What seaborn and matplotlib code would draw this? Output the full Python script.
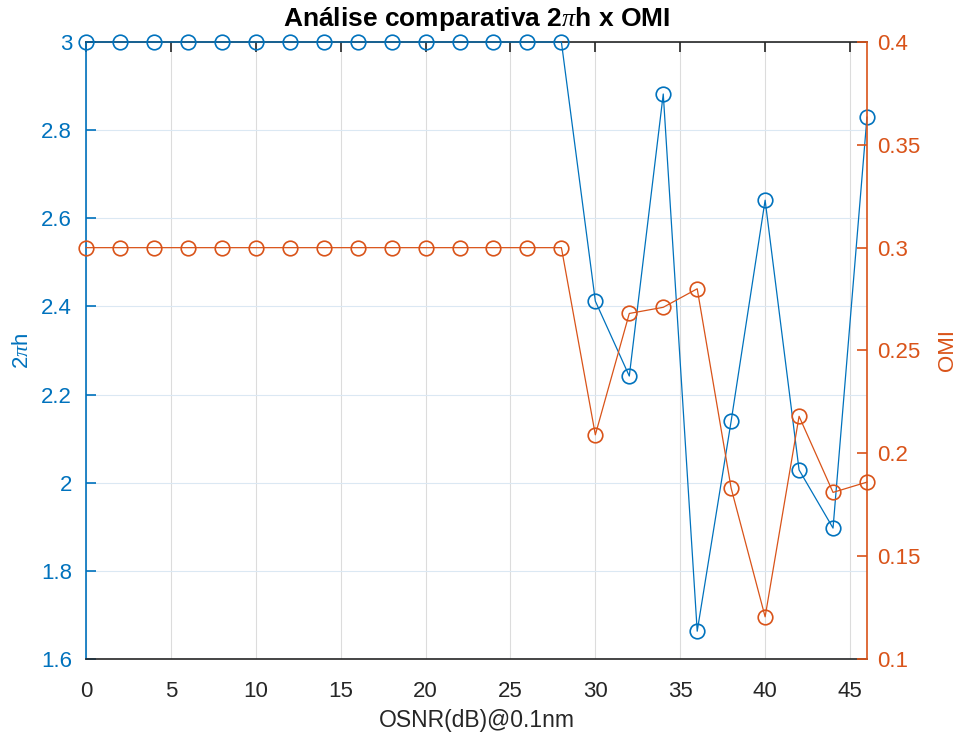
import matplotlib
matplotlib.use("Agg")
import matplotlib.pyplot as plt
import seaborn as sns
import pandas as pd

sns.set_style("white")
plt.rcParams['font.family'] = ['Liberation Sans', 'DejaVu Sans']
plt.rcParams['mathtext.fontset'] = 'custom'
plt.rcParams['mathtext.it'] = 'Liberation Serif:italic'

osnr = [0, 2, 4, 6, 8, 10, 12, 14, 16, 18, 20, 22, 24, 26, 28,
        30, 32, 34, 36, 38, 40, 42, 44, 46]
two_pi_h = [3, 3, 3, 3, 3, 3, 3, 3, 3, 3, 3, 3, 3, 3, 3,
            2.412, 2.242, 2.882, 1.663, 2.14, 2.641, 2.029, 1.897, 2.83]
omi = [0.3, 0.3, 0.3, 0.3, 0.3, 0.3, 0.3, 0.3, 0.3, 0.3, 0.3, 0.3, 0.3, 0.3, 0.3,
       0.209, 0.268, 0.271, 0.280, 0.183, 0.1205, 0.218, 0.181, 0.186]

x_ticks = [0, 5, 10, 15, 20, 25, 30, 35, 40, 45]
left_ticks = [1.6, 1.8, 2, 2.2, 2.4, 2.6, 2.8, 3]
left_labels = ["1.6", "1.8", "2", "2.2", "2.4", "2.6", "2.8", "3"]
right_ticks = [0.1, 0.15, 0.2, 0.25, 0.3, 0.35, 0.4]
right_labels = ["0.1", "0.15", "0.2", "0.25", "0.3", "0.35", "0.4"]

df = pd.DataFrame({"osnr": osnr, "h": two_pi_h, "omi": omi})

blue = "#0072BD"
orange = "#D95319"
dark = "#262626"
fs = 16

fig = plt.figure(figsize=(9.63, 7.33), dpi=100)
ax = fig.add_axes([0.0893, 0.101, 0.9003 - 0.0893, 0.9427 - 0.101])
ax2 = ax.twinx()

marker_kw = dict(marker="o", markersize=10.5, markerfacecolor="none",
                 markeredgewidth=1.2, clip_on=False, zorder=3)
sns.lineplot(data=df, x="osnr", y="h", ax=ax, color=blue, lw=0.9,
             markeredgecolor=blue, **marker_kw)
sns.lineplot(data=df, x="osnr", y="omi", ax=ax2, color=orange, lw=0.9,
             markeredgecolor=orange, **marker_kw)

ax.set_xlim(0, 46)
ax.set_ylim(1.6, 3)
ax2.set_ylim(0.1, 0.4)
ax.set_xticks(x_ticks)
ax.set_xticklabels([str(v) for v in x_ticks])
ax.set_yticks(left_ticks)
ax.set_yticklabels(left_labels)
ax2.set_yticks(right_ticks)
ax2.set_yticklabels(right_labels)

# grid: vertical gray, horizontal light blue
for xv in x_ticks:
    ax.axvline(xv, color="#dcdcdc", lw=0.8, zorder=0)
for yv in left_ticks:
    ax.axhline(yv, color="#dbe8f3", lw=0.8, zorder=0)

ax.tick_params(axis="x", direction="in", length=7, width=1.2, colors=dark,
               labelsize=fs, pad=16, top=True)
ax.tick_params(axis="y", direction="in", length=7, width=1.2, colors=blue,
               labelsize=fs, pad=10)
ax2.tick_params(axis="y", direction="in", length=7, width=1.2, colors=orange,
                labelsize=fs, pad=7.5)

for sp in ("top", "bottom"):
    ax.spines[sp].set_color(dark)
    ax.spines[sp].set_linewidth(1.2)
    ax2.spines[sp].set_visible(False)
ax.spines["left"].set_color(blue)
ax.spines["left"].set_linewidth(1.2)
ax.spines["right"].set_visible(False)
ax2.spines["left"].set_visible(False)
ax2.spines["right"].set_color(orange)
ax2.spines["right"].set_linewidth(1.2)

ax.set_xlabel("OSNR(dB)@0.1nm", fontsize=16.5, color=dark, labelpad=5)
ax.set_ylabel("2$\\pi$h", fontsize=16, color=blue, labelpad=6)
ax2.set_ylabel("OMI", fontsize=16, color=orange, rotation=90, labelpad=12)
ax.set_title("Análise comparativa 2$\\pi$h x OMI", fontsize=19,
             fontweight="bold", color="black", pad=11.5)

fig.savefig("out.png", dpi=100)
